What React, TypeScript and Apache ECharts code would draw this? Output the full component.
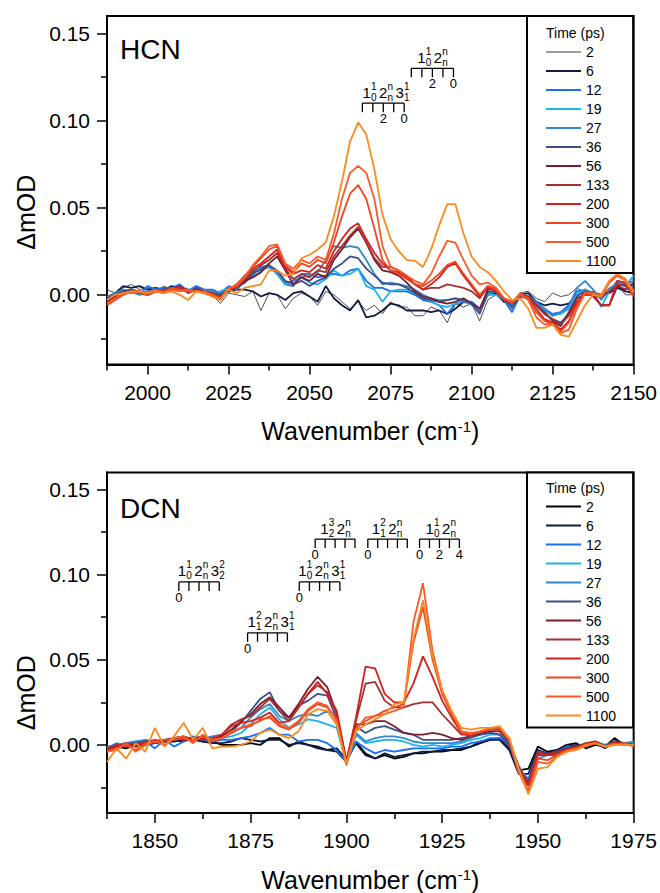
import React, { useEffect, useRef } from 'react';
import * as echarts from 'echarts';

const FONT = '"Liberation Sans", Arial, Helvetica, sans-serif';

// Delay times (ps) — legend entries
const timeLabels = ['2', '6', '12', '19', '27', '36', '56', '133', '200', '300', '500', '1100'];
const hcnColors = ['#3a3a3a', '#0f1d45', '#1a6ef2', '#1fb3e8', '#3189cc', '#3d4f88', '#7d1c2e', '#a53030', '#d41f1f', '#f04422', '#fb5a26', '#fd8a1f'];
const dcnColors = ['#000000', '#0f1d45', '#1a6ef2', '#1fb3e8', '#3189cc', '#3d4f88', '#7d1c2e', '#a53030', '#d41f1f', '#f04422', '#fb5a26', '#fd8a1f'];

// HCN panel wavenumbers (cm-1)
const hcnWavenumber = [1987.5, 1990, 1992.5, 1995, 1997.5, 2000, 2002.5, 2005, 2007.5, 2010, 2012.5, 2015, 2017.5, 2020, 2022.5, 2025, 2027.5, 2030, 2032.5, 2035, 2037.5, 2040, 2042.5, 2045, 2047.5, 2050, 2052.5, 2055, 2057.5, 2060, 2062.5, 2065, 2067.5, 2070, 2072.5, 2075, 2077.5, 2080, 2082.5, 2085, 2087.5, 2090, 2092.5, 2095, 2097.5, 2100, 2102.5, 2105, 2107.5, 2110, 2112.5, 2115, 2117.5, 2120, 2122.5, 2125, 2127.5, 2130, 2132.5, 2135, 2137.5, 2140, 2142.5, 2145, 2147.5, 2150];

const hcn2 = [0.003, 0.001, 0.004, 0.006, 0.003, 0.004, 0.002, 0.005, 0.003, 0.004, 0.001, 0.005, 0.002, 0, -0.005, 0.001, 0, -0.001, 0.002, -0.009, 0.001, 0, -0.008, -0.002, 0.001, -0.001, -0.006, 0.002, 0, -0.004, -0.008, -0.004, -0.009, -0.006, -0.011, -0.004, -0.007, -0.007, -0.012, -0.012, -0.007, -0.009, -0.016, -0.005, -0.007, -0.005, -0.015, -0.003, 0, -0.004, -0.006, 0.001, 0.002, -0.002, -0.004, 0.001, -0.001, 0, 0.004, 0.001, 0.002, 0, 0.004, 0.006, 0, 0];
const hcn6 = [-0.004, 0.001, 0.005, 0.004, 0.005, 0.003, 0.004, 0.003, 0.005, 0.004, 0.002, 0.003, 0.001, 0.001, 0, 0.002, 0.003, 0.003, 0.002, -0.001, 0.001, 0, -0.003, 0.001, 0.002, -0.001, -0.004, 0.005, -0.002, -0.006, -0.009, -0.003, -0.013, -0.012, -0.009, -0.005, -0.006, -0.009, -0.009, -0.009, -0.01, -0.009, -0.011, -0.008, -0.004, -0.005, -0.01, 0, 0.001, -0.004, -0.005, 0, 0.001, -0.004, -0.006, -0.005, -0.006, -0.005, 0, 0.003, 0.001, 0, 0.001, 0.004, 0.002, 0.001];
const hcn12 = [-0.002, 0.001, 0.002, 0.002, 0, 0.005, 0.003, 0.004, 0.004, 0.006, 0.002, 0.005, 0.003, 0.003, 0.001, 0.005, 0.003, 0.008, 0.013, 0.014, 0.016, 0.012, 0.006, 0.005, 0.012, 0.012, 0.01, 0.011, 0.012, 0.011, 0.014, 0.015, 0.008, 0.004, 0.004, 0.002, 0.002, 0.002, 0, -0.003, -0.004, -0.006, -0.011, -0.005, -0.004, -0.004, -0.008, 0, 0.002, -0.003, -0.01, 0, -0.001, -0.004, -0.008, -0.011, -0.01, -0.006, 0.002, 0.003, 0, -0.002, 0.002, 0.008, 0.005, 0.001];
const hcn19 = [-0.003, 0, 0.002, 0.003, 0, 0.001, 0.002, 0.003, 0.002, 0.005, 0.003, 0.004, 0.002, 0.001, 0.002, 0.004, 0.004, 0.007, 0.011, 0.013, 0.017, 0.012, 0.006, 0.008, 0.01, 0.007, 0.006, 0.009, 0.014, 0.011, 0.012, 0.015, 0.005, 0.003, -0.004, 0.002, 0.003, 0.003, 0.001, -0.002, -0.004, -0.006, -0.007, -0.005, -0.003, -0.006, -0.009, 0, 0, -0.003, -0.006, -0.001, -0.002, -0.005, -0.009, -0.012, -0.011, -0.008, 0, 0.003, 0.001, -0.007, 0.002, 0.007, 0.005, 0.011];
const hcn27 = [-0.001, 0.001, 0.003, 0.002, 0.001, 0.002, 0.003, 0.002, 0.003, 0.004, 0.002, 0.003, 0.003, 0.002, 0.001, 0.003, 0.005, 0.007, 0.014, 0.016, 0.017, 0.013, 0.007, 0.008, 0.01, 0.011, 0.013, 0.02, 0.028, 0.027, 0.028, 0.027, 0.02, 0.012, 0.006, 0.007, 0.006, 0.005, 0.003, 0, -0.002, -0.003, -0.003, -0.002, -0.003, -0.005, -0.01, 0.001, 0.002, -0.002, -0.008, 0, -0.001, -0.005, -0.008, -0.012, -0.01, -0.007, 0.004, 0.008, 0.003, -0.003, 0.003, 0.007, 0.006, 0.008];
const hcn36 = [-0.002, 0, 0.002, 0.003, 0.002, 0.001, 0.002, 0.003, 0.004, 0.003, 0.002, 0.004, 0.002, 0.001, 0, 0.003, 0.004, 0.007, 0.012, 0.015, 0.017, 0.014, 0.008, 0.006, 0.008, 0.005, 0.008, 0.01, 0.015, 0.018, 0.022, 0.021, 0.015, 0.011, 0.007, 0.006, 0.006, 0.004, 0.001, -0.002, -0.003, -0.004, -0.003, -0.002, -0.003, -0.005, -0.011, 0.002, 0.002, -0.002, -0.007, -0.001, -0.002, -0.006, -0.011, -0.014, -0.016, -0.011, -0.001, 0.002, 0.001, 0, 0.002, 0.005, 0.006, 0.005];
const hcn56 = [-0.004, -0.001, 0.001, 0.002, 0.001, 0, 0.002, 0.001, 0.003, 0.005, 0.002, 0.003, 0.002, 0, -0.001, 0.002, 0.005, 0.008, 0.01, 0.013, 0.018, 0.022, 0.014, 0.006, 0.01, 0.008, 0.012, 0.01, 0.02, 0.026, 0.033, 0.038, 0.03, 0.02, 0.014, 0.013, 0.011, 0.007, 0.002, -0.001, -0.002, -0.004, -0.005, -0.004, -0.002, -0.005, -0.008, 0.003, 0.004, -0.003, -0.005, 0, -0.001, -0.006, -0.01, -0.015, -0.018, -0.01, -0.002, 0, 0, -0.006, -0.006, 0.005, 0.003, 0.007];
const hcn133 = [-0.003, 0, 0.001, 0.002, 0.002, 0.001, 0.003, 0.002, 0.003, 0.004, 0.003, 0.002, 0.002, 0.001, -0.001, 0.003, 0.004, 0.009, 0.013, 0.017, 0.02, 0.024, 0.015, 0.009, 0.012, 0.01, 0.014, 0.013, 0.022, 0.028, 0.034, 0.039, 0.03, 0.021, 0.016, 0.016, 0.014, 0.011, 0.006, 0.003, 0.004, 0.004, 0.006, 0.005, 0.004, 0.002, -0.002, 0.005, 0.003, -0.002, -0.004, 0, -0.001, -0.006, -0.011, -0.014, -0.017, -0.012, -0.004, 0.001, 0, -0.001, 0.002, 0.006, 0.005, 0];
const hcn200 = [-0.005, -0.002, 0.001, 0.001, 0.002, 0, 0.002, 0.003, 0.002, 0.005, 0.001, 0.003, 0.001, 0, -0.002, 0.004, 0.005, 0.01, 0.015, 0.018, 0.022, 0.026, 0.016, 0.012, 0.014, 0.013, 0.017, 0.015, 0.025, 0.032, 0.038, 0.041, 0.032, 0.024, 0.018, 0.014, 0.013, 0.01, 0.006, 0.003, 0.006, 0.01, 0.016, 0.018, 0.011, 0.005, -0.001, 0.004, 0.002, -0.003, -0.005, 0, -0.002, -0.008, -0.014, -0.016, -0.02, -0.015, -0.005, 0.002, -0.001, -0.006, -0.006, 0.008, 0.007, 0.003];
const hcn300 = [-0.006, -0.003, 0, 0.002, 0.001, 0, 0.003, 0.002, 0.004, 0.003, 0.002, 0.002, 0.001, -0.001, -0.003, 0.003, 0.006, 0.011, 0.016, 0.021, 0.026, 0.028, 0.017, 0.013, 0.018, 0.016, 0.02, 0.018, 0.03, 0.045, 0.058, 0.063, 0.055, 0.038, 0.02, 0.014, 0.012, 0.009, 0.006, 0.005, 0.008, 0.012, 0.017, 0.019, 0.012, 0.006, 0, 0.005, 0.003, -0.002, -0.005, 0.001, -0.002, -0.01, -0.015, -0.017, -0.021, -0.016, -0.006, 0.001, 0, -0.001, 0.007, 0.011, 0.008, -0.001];
const hcn500 = [-0.005, -0.002, 0.001, 0.001, 0.002, 0.001, 0.003, 0.001, 0.003, 0.002, 0.003, 0.002, 0.002, 0, -0.002, 0.004, 0.005, 0.01, 0.017, 0.022, 0.028, 0.029, 0.018, 0.015, 0.02, 0.018, 0.022, 0.02, 0.035, 0.055, 0.07, 0.074, 0.07, 0.055, 0.028, 0.016, 0.014, 0.011, 0.008, 0.006, 0.012, 0.022, 0.031, 0.03, 0.02, 0.011, 0.006, 0.007, 0.004, -0.002, -0.004, 0, -0.003, -0.013, -0.017, -0.017, -0.022, -0.02, -0.008, 0.001, 0.001, 0, 0.008, 0.012, 0.009, 0.001];
const hcn1100 = [-0.003, 0, 0.001, 0.002, 0.002, 0.001, 0.002, 0.001, 0.002, 0, -0.003, 0.002, 0.001, -0.001, -0.003, 0.003, 0.001, 0.004, 0.005, 0.006, 0.014, 0.014, 0.011, 0.012, 0.021, 0.023, 0.026, 0.03, 0.045, 0.065, 0.088, 0.099, 0.092, 0.072, 0.046, 0.032, 0.025, 0.02, 0.0195, 0.016, 0.026, 0.04, 0.052, 0.052, 0.035, 0.022, 0.016, 0.013, 0.008, 0.002, -0.003, -0.002, -0.008, -0.019, -0.019, -0.017, -0.023, -0.024, -0.015, -0.006, 0, -0.001, 0.008, 0.012, 0.008, 0.002];

// DCN panel wavenumbers (cm-1)
const dcnWavenumber = [1837.5, 1840, 1842.5, 1845, 1847.5, 1850, 1852.5, 1855, 1857.5, 1860, 1862.5, 1865, 1867.5, 1870, 1872.5, 1875, 1877.5, 1880, 1882.5, 1885, 1887.5, 1890, 1892.5, 1895, 1897.5, 1900, 1902.5, 1905, 1907.5, 1910, 1912.5, 1915, 1917.5, 1920, 1922.5, 1925, 1927.5, 1930, 1932.5, 1935, 1937.5, 1940, 1942.5, 1945, 1947.5, 1950, 1952.5, 1955, 1957.5, 1960, 1962.5, 1965, 1967.5, 1970, 1972.5, 1975];

const dcn2 = [-0.002, -0.001, -0.002, 0, 0, 0.001, 0.002, 0.003, 0.002, 0.004, 0.002, 0.002, 0, 0, 0, 0.001, 0, 0.004, 0.004, -0.001, 0.002, 0, -0.001, -0.003, -0.002, -0.009, 0.001, -0.006, -0.008, -0.006, -0.008, -0.007, -0.005, -0.005, -0.004, -0.004, -0.003, -0.003, -0.001, 0.001, 0.003, 0.004, -0.002, -0.015, -0.014, -0.001, -0.004, -0.003, 0, 0.001, -0.002, 0, -0.001, 0.004, 0, 0.002];
const dcn6 = [-0.003, -0.001, 0, -0.001, 0.001, 0.001, 0.002, 0.002, 0.003, 0.003, 0.002, 0.001, 0.001, 0.002, 0.004, 0.003, 0.002, 0.003, 0.003, 0, 0.001, 0, -0.002, -0.003, -0.004, -0.01, 0.002, -0.005, -0.008, -0.005, -0.007, -0.006, -0.005, -0.004, -0.004, -0.003, -0.003, -0.002, -0.001, 0.002, 0.003, 0.003, -0.003, -0.017, -0.017, -0.003, -0.005, -0.003, -0.001, 0, -0.001, 0.001, -0.002, 0.002, 0.001, 0];
const dcn12 = [-0.002, 0.001, -0.001, 0.001, 0.002, -0.002, 0.003, -0.001, 0.002, 0.005, 0.003, 0.002, 0.003, 0.003, 0.004, 0.005, 0.007, 0.01, 0.006, 0.006, 0.002, 0.003, 0.003, 0.001, -0.003, -0.01, 0.002, -0.002, -0.005, -0.003, -0.004, -0.003, -0.002, -0.002, -0.002, -0.002, -0.001, -0.001, 0.001, 0.002, 0.004, 0.004, 0, -0.014, -0.02, -0.004, -0.005, -0.004, -0.001, -0.001, 0, 0.002, -0.001, 0.001, 0, 0.001];
const dcn19 = [-0.002, 0, 0.001, 0.002, 0.001, 0.002, 0.002, 0.003, 0.004, 0.003, 0.004, 0.003, 0.004, 0.005, 0.007, 0.012, 0.018, 0.022, 0.015, 0.01, 0.012, 0.015, 0.014, 0.012, 0.01, -0.011, 0.006, 0.001, 0.002, 0.003, 0.003, 0.002, 0, -0.001, 0, -0.001, 0, 0.001, 0.003, 0.004, 0.006, 0.006, 0.002, -0.012, -0.022, -0.006, -0.006, -0.004, -0.002, -0.001, 0, 0.001, 0, 0.001, 0.001, 0.002];
const dcn27 = [-0.001, 0, 0.001, 0.002, 0.003, 0.002, 0.003, 0.004, 0.005, 0.003, 0.004, 0.005, 0.006, 0.007, 0.01, 0.016, 0.021, 0.024, 0.017, 0.014, 0.017, 0.018, 0.017, 0.02, 0.012, -0.011, 0.007, 0.002, 0.004, 0.005, 0.005, 0.004, 0.002, 0.001, 0.001, 0.001, 0.001, 0.002, 0.004, 0.006, 0.007, 0.006, 0.001, -0.014, -0.024, -0.008, -0.006, -0.004, -0.002, -0.001, 0, 0.002, 0, 0.002, 0.001, 0.001];
const dcn36 = [-0.002, -0.001, 0, 0.001, 0.002, 0.002, 0.003, 0.003, 0.004, 0.004, 0.003, 0.004, 0.005, 0.008, 0.013, 0.02, 0.027, 0.031, 0.02, 0.016, 0.023, 0.026, 0.03, 0.029, 0.015, -0.011, 0.011, 0.007, 0.01, 0.011, 0.009, 0.007, 0.006, 0.003, 0.003, 0.003, 0.003, 0.004, 0.005, 0.006, 0.007, 0.006, 0, -0.016, -0.024, -0.006, -0.006, -0.005, -0.002, -0.001, 0, 0.001, -0.001, 0.002, 0, 0];
const dcn56 = [-0.003, -0.001, 0, 0, 0.001, 0.002, 0.002, 0.004, 0.003, 0.004, 0.005, 0.003, 0.005, 0.009, 0.014, 0.018, 0.024, 0.028, 0.022, 0.016, 0.024, 0.033, 0.04, 0.034, 0.018, -0.01, 0.012, 0.012, 0.014, 0.014, 0.011, 0.007, 0.006, 0.006, 0.007, 0.006, 0.004, 0.003, 0.005, 0.007, 0.008, 0.008, 0.002, -0.014, -0.022, -0.005, -0.005, -0.004, -0.002, -0.001, 0, 0.001, -0.001, 0.002, 0.001, 0];
const dcn133 = [-0.002, 0, -0.001, 0, 0.002, 0.001, 0.003, 0.004, 0.003, 0.004, 0.003, 0.004, 0.006, 0.012, 0.015, 0.017, 0.022, 0.027, 0.02, 0.014, 0.022, 0.03, 0.035, 0.031, 0.018, -0.009, 0.014, 0.036, 0.037, 0.026, 0.022, 0.022, 0.024, 0.025, 0.025, 0.018, 0.012, 0.006, 0.006, 0.007, 0.009, 0.009, 0.002, -0.013, -0.023, -0.004, -0.006, -0.004, -0.003, -0.001, 0.001, 0.002, -0.001, 0.001, 0.001, 0];
const dcn200 = [-0.003, -0.001, 0.001, 0, 0.001, 0.003, 0.002, 0.004, 0.005, 0.003, 0.004, 0.003, 0.006, 0.011, 0.013, 0.014, 0.016, 0.019, 0.013, 0.014, 0.022, 0.03, 0.037, 0.03, 0.02, -0.01, 0.016, 0.046, 0.045, 0.03, 0.025, 0.025, 0.036, 0.052, 0.04, 0.026, 0.016, 0.007, 0.005, 0.008, 0.009, 0.01, 0.003, -0.014, -0.024, -0.005, -0.006, -0.006, -0.003, -0.002, 0, 0.002, -0.001, 0.001, 0, 0];
const dcn300 = [-0.004, -0.002, 0, -0.003, 0.001, 0.002, 0.003, 0.003, 0.004, 0.002, 0.005, 0.002, 0.004, 0.007, 0.01, 0.011, 0.015, 0.016, 0.011, 0.009, 0.013, 0.02, 0.024, 0.022, 0.015, -0.011, 0.01, 0.014, 0.017, 0.02, 0.022, 0.024, 0.06, 0.081, 0.05, 0.03, 0.018, 0.007, 0.006, 0.008, 0.009, 0.01, 0.004, -0.015, -0.027, -0.008, -0.009, -0.006, -0.003, -0.002, 0, 0.001, -0.001, 0.001, 0, 0];
const dcn500 = [-0.004, -0.003, 0.001, -0.004, 0, 0.002, 0, 0.004, 0.005, 0.001, 0.006, 0.003, 0.004, 0.008, 0.01, 0.012, 0.014, 0.017, 0.012, 0.01, 0.014, 0.021, 0.025, 0.023, 0.014, -0.012, 0.009, 0.016, 0.017, 0.018, 0.02, 0.022, 0.072, 0.095, 0.055, 0.032, 0.019, 0.008, 0.007, 0.008, 0.01, 0.01, 0.003, -0.016, -0.028, -0.01, -0.011, -0.007, -0.004, -0.002, -0.001, 0.001, -0.001, 0, 0.001, -0.001];
const dcn1100 = [-0.01, -0.002, -0.008, 0.001, -0.004, 0.01, -0.001, 0.005, 0.013, 0.003, 0.01, -0.002, -0.001, -0.001, 0, 0.002, 0.007, 0.009, 0.006, 0.004, 0.008, 0.018, 0.021, 0.02, 0.012, -0.011, 0.008, 0.012, 0.015, 0.018, 0.024, 0.025, 0.062, 0.085, 0.052, 0.032, 0.02, 0.01, 0.009, 0.01, 0.01, 0.011, 0.004, -0.014, -0.029, -0.014, -0.013, -0.007, -0.004, -0.003, 0, 0.001, -0.001, 0, 0, 0];

const hcnValues = [hcn2, hcn6, hcn12, hcn19, hcn27, hcn36, hcn56, hcn133, hcn200, hcn300, hcn500, hcn1100];
const dcnValues = [dcn2, dcn6, dcn12, dcn19, dcn27, dcn36, dcn56, dcn133, dcn200, dcn300, dcn500, dcn1100];

// Axis ticks
const hcnMajorTicks = [2000, 2025, 2050, 2075, 2100, 2125, 2150];
const hcnMinorTicks = [1987.5, 2012.5, 2037.5, 2062.5, 2087.5, 2112.5, 2137.5];
const dcnMajorTicks = [1850, 1875, 1900, 1925, 1950, 1975];
const dcnMinorTicks = [1837.5, 1862.5, 1887.5, 1912.5, 1937.5, 1962.5];
const yMajorTicks = [0, 0.05, 0.1, 0.15];
const yMinorTicks = [-0.025, 0.025, 0.075, 0.125];

// Vibrational progression assignments: [base, superscript, subscript]
const hcnAssignments = [
  { x0: 2066.3, x1: 2079.2, y: 0.11, dx: 0, terms: [['1', '1', '0'], ['2', 'n', 'n'], ['3', '1', '1']], ticks: ['', '', '2', '', '0'] },
  { x0: 2081.4, x1: 2094.4, y: 0.13, dx: 6, terms: [['1', '1', '0'], ['2', 'n', 'n']], ticks: ['', '', '2', '', '0'] },
];
const dcnAssignments = [
  { x0: 1856.25, x1: 1866.8, y: 0.0957, dx: -1, terms: [['1', '1', '0'], ['2', 'n', 'n'], ['3', '2', '2']], ticks: ['0', '', '', '', ''] },
  { x0: 1874.2, x1: 1884.6, y: 0.0658, dx: 0, terms: [['1', '2', '1'], ['2', 'n', 'n'], ['3', '1', '1']], ticks: ['0', '', '', '', ''] },
  { x0: 1887.7, x1: 1898.3, y: 0.0957, dx: -1, terms: [['1', '1', '0'], ['2', 'n', 'n'], ['3', '1', '1']], ticks: ['0', '', '', '', ''] },
  { x0: 1891.85, x1: 1902.25, y: 0.1209, dx: 5, terms: [['1', '3', '2'], ['2', 'n', 'n']], ticks: ['0', '', '', '', ''] },
  { x0: 1905.6, x1: 1915.9, y: 0.1209, dx: 4, terms: [['1', '2', '1'], ['2', 'n', 'n']], ticks: ['0', '', '', '', ''] },
  { x0: 1919.1, x1: 1929.5, y: 0.1209, dx: 6, terms: [['1', '1', '0'], ['2', 'n', 'n']], ticks: ['0', '', '2', '', '4'] },
];

const txt = (text: string, x: number, y: number, size: number, align: string) => ({
  type: 'text',
  x,
  y,
  style: {
    text,
    fontSize: size,
    fontFamily: FONT,
    fill: '#000',
    align,
    verticalAlign: 'middle',
    textAlign: align,
    textVerticalAlign: 'middle',
  },
});

const makeAssignmentRenderer = (defs: any[]) => (params: any, api: any) => {
  const d = defs[api.value(2)];
  const a = api.coord([d.x0, d.y]);
  const b = api.coord([d.x1, d.y]);
  const y = a[1];
  const stroke = { stroke: '#000', lineWidth: 1.3 };
  const kids: any[] = [];
  kids.push({ type: 'line', shape: { x1: a[0], y1: y, x2: b[0], y2: y }, style: stroke });
  const n = d.ticks.length;
  d.ticks.forEach((lab: string, k: number) => {
    const x = a[0] + ((b[0] - a[0]) * k) / (n - 1);
    kids.push({ type: 'line', shape: { x1: x, y1: y, x2: x, y2: y + 9 }, style: stroke });
    if (lab) kids.push(txt(lab, x, y + 15.5, 13, 'center'));
  });
  let x = a[0] + d.dx;
  d.terms.forEach((t: string[]) => {
    kids.push(txt(t[0], x, y - 11, 15, 'left'));
    kids.push(txt(t[1], x + 8.5, y - 17, 10, 'left'));
    kids.push(txt(t[2], x + 8.5, y - 6, 10, 'left'));
    x += 16.5;
  });
  return { type: 'group', children: kids };
};

const axisLineStyle = { color: '#000', width: 2 };
const tickStyle = { color: '#000', width: 1.5 };
const intLabel = (v: number) => String(Math.round(v));

function buildXAxes(gridIndex: number, min: number, max: number, major: number[], minor: number[]) {
  return [
    {
      gridIndex,
      type: 'value',
      min,
      max,
      position: 'bottom',
      axisLine: { show: true, onZero: false, lineStyle: axisLineStyle },
      axisTick: { show: true, length: 10, lineStyle: tickStyle, customValues: major },
      axisLabel: { show: true, customValues: major, formatter: intLabel, fontSize: 21, fontFamily: FONT, color: '#000', margin: 17 },
      splitLine: { show: false },
      name: 'Wavenumber (cm{sup|-1})',
      nameLocation: 'middle',
      nameGap: 54,
      nameTextStyle: {
        fontSize: 25,
        fontFamily: FONT,
        color: '#000',
        rich: { sup: { fontSize: 15, fontFamily: FONT, color: '#000', verticalAlign: 'top' } },
      },
    },
    {
      gridIndex,
      type: 'value',
      min,
      max,
      position: 'bottom',
      axisLine: { show: false, onZero: false },
      axisTick: { show: true, length: 6, lineStyle: tickStyle, customValues: minor },
      axisLabel: { show: false },
      splitLine: { show: false },
    },
  ];
}

function buildYAxes(gridIndex: number, shift: number) {
  return [
    {
      gridIndex,
      type: 'value',
      min: -0.04,
      max: 0.16,
      position: 'left',
      axisLine: { show: true, onZero: false, lineStyle: axisLineStyle },
      axisTick: { show: true, length: 10, lineStyle: tickStyle, customValues: yMajorTicks },
      axisLabel: {
        show: true,
        customValues: yMajorTicks,
        formatter: (v: number) => v.toFixed(2),
        fontSize: 21,
        fontFamily: FONT,
        color: '#000',
        margin: 17,
      },
      splitLine: { show: false },
      name: 'ΔmOD',
      nameLocation: 'middle',
      nameGap: 67,
      nameTextStyle: { fontSize: 25, fontFamily: FONT, color: '#000', padding: [0, shift, 0, 0] },
    },
    {
      gridIndex,
      type: 'value',
      min: -0.04,
      max: 0.16,
      position: 'left',
      axisLine: { show: false, onZero: false },
      axisTick: { show: true, length: 6, lineStyle: tickStyle, customValues: yMinorTicks },
      axisLabel: { show: false },
      splitLine: { show: false },
    },
  ];
}

function buildLegend(top: number, colors: string[], firstWidth: number, padTop: number) {
  return {
    orient: 'vertical',
    left: 527,
    top,
    itemWidth: 35,
    itemHeight: 14,
    itemGap: 5,
    padding: [padTop, 17, 5, 18],
    borderColor: '#000',
    borderWidth: 2,
    backgroundColor: '#fff',
    selectedMode: false,
    textStyle: { fontSize: 14, fontFamily: FONT, color: '#000' },
    data: timeLabels.map((name, i) => ({
      name,
      itemStyle: { color: 'rgba(0,0,0,0)', borderWidth: 0, opacity: 0 },
      lineStyle: { color: colors[i], width: i === 0 ? firstWidth : 2 },
    })),
  };
}

function buildSeries(x: number[], values: number[][], colors: string[], axisIndex: number, thinFirst: boolean) {
  return values.map((vals, i) => ({
    type: 'line',
    name: timeLabels[i],
    xAxisIndex: axisIndex,
    yAxisIndex: axisIndex,
    data: x.map((w, k) => [w, vals[k]]),
    symbol: 'none',
    showSymbol: false,
    lineStyle: { color: colors[i], width: thinFirst && i === 0 ? 0.9 : 1.8 },
    itemStyle: { color: colors[i] },
    z: 2,
  }));
}

export default function App() {
  const ref = useRef<HTMLDivElement>(null);
  useEffect(() => {
    if (!ref.current) return;
    const chart = echarts.init(ref.current, undefined, { renderer: 'svg' });
    const option: any = {
      animation: false,
      backgroundColor: '#fff',
      grid: [
        { left: 107, top: 16, width: 528, height: 348.5, show: true, borderColor: '#000', borderWidth: 2, containLabel: false },
        { left: 107, top: 472.5, width: 528, height: 350, show: true, borderColor: '#000', borderWidth: 2, containLabel: false },
      ],
      xAxis: [
        ...buildXAxes(0, 1987.5, 2150, hcnMajorTicks, hcnMinorTicks),
        ...buildXAxes(1, 1837.5, 1975, dcnMajorTicks, dcnMinorTicks),
      ],
      yAxis: [...buildYAxes(0, 44), ...buildYAxes(1, 100)],
      legend: [buildLegend(16, hcnColors, 1, 29), buildLegend(472.5, dcnColors, 2, 27)],
      graphic: [
        { type: 'text', x: 120, y: 49, z: 100, style: { text: 'HCN', fontSize: 28, fontFamily: FONT, fill: '#000', verticalAlign: 'middle', textVerticalAlign: 'middle' } },
        { type: 'text', x: 120, y: 508, z: 100, style: { text: 'DCN', fontSize: 28, fontFamily: FONT, fill: '#000', verticalAlign: 'middle', textVerticalAlign: 'middle' } },
        { type: 'text', x: 546, y: 33, z: 100, style: { text: 'Time (ps)', fontSize: 14, fontFamily: FONT, fill: '#000', verticalAlign: 'middle', textVerticalAlign: 'middle' } },
        { type: 'text', x: 546, y: 488, z: 100, style: { text: 'Time (ps)', fontSize: 14, fontFamily: FONT, fill: '#000', verticalAlign: 'middle', textVerticalAlign: 'middle' } },
      ],
      series: [
        ...buildSeries(hcnWavenumber, hcnValues, hcnColors, 0, true),
        ...buildSeries(dcnWavenumber, dcnValues, dcnColors, 2, false),
        {
          type: 'custom',
          name: 'HCN assignments',
          coordinateSystem: 'cartesian2d',
          xAxisIndex: 0,
          yAxisIndex: 0,
          data: hcnAssignments.map((d, i) => [d.x0, d.y, i]),
          encode: { x: 0, y: 1 },
          renderItem: makeAssignmentRenderer(hcnAssignments),
          silent: true,
          clip: false,
          z: 5,
        },
        {
          type: 'custom',
          name: 'DCN assignments',
          coordinateSystem: 'cartesian2d',
          xAxisIndex: 2,
          yAxisIndex: 2,
          data: dcnAssignments.map((d, i) => [d.x0, d.y, i]),
          encode: { x: 0, y: 1 },
          renderItem: makeAssignmentRenderer(dcnAssignments),
          silent: true,
          clip: false,
          z: 5,
        },
      ],
    };
    chart.setOption(option);
    return () => chart.dispose();
  }, []);
  return <div ref={ref} style={{ position: 'absolute', left: 0, top: 0, width: 660, height: 893 }} />;
}
